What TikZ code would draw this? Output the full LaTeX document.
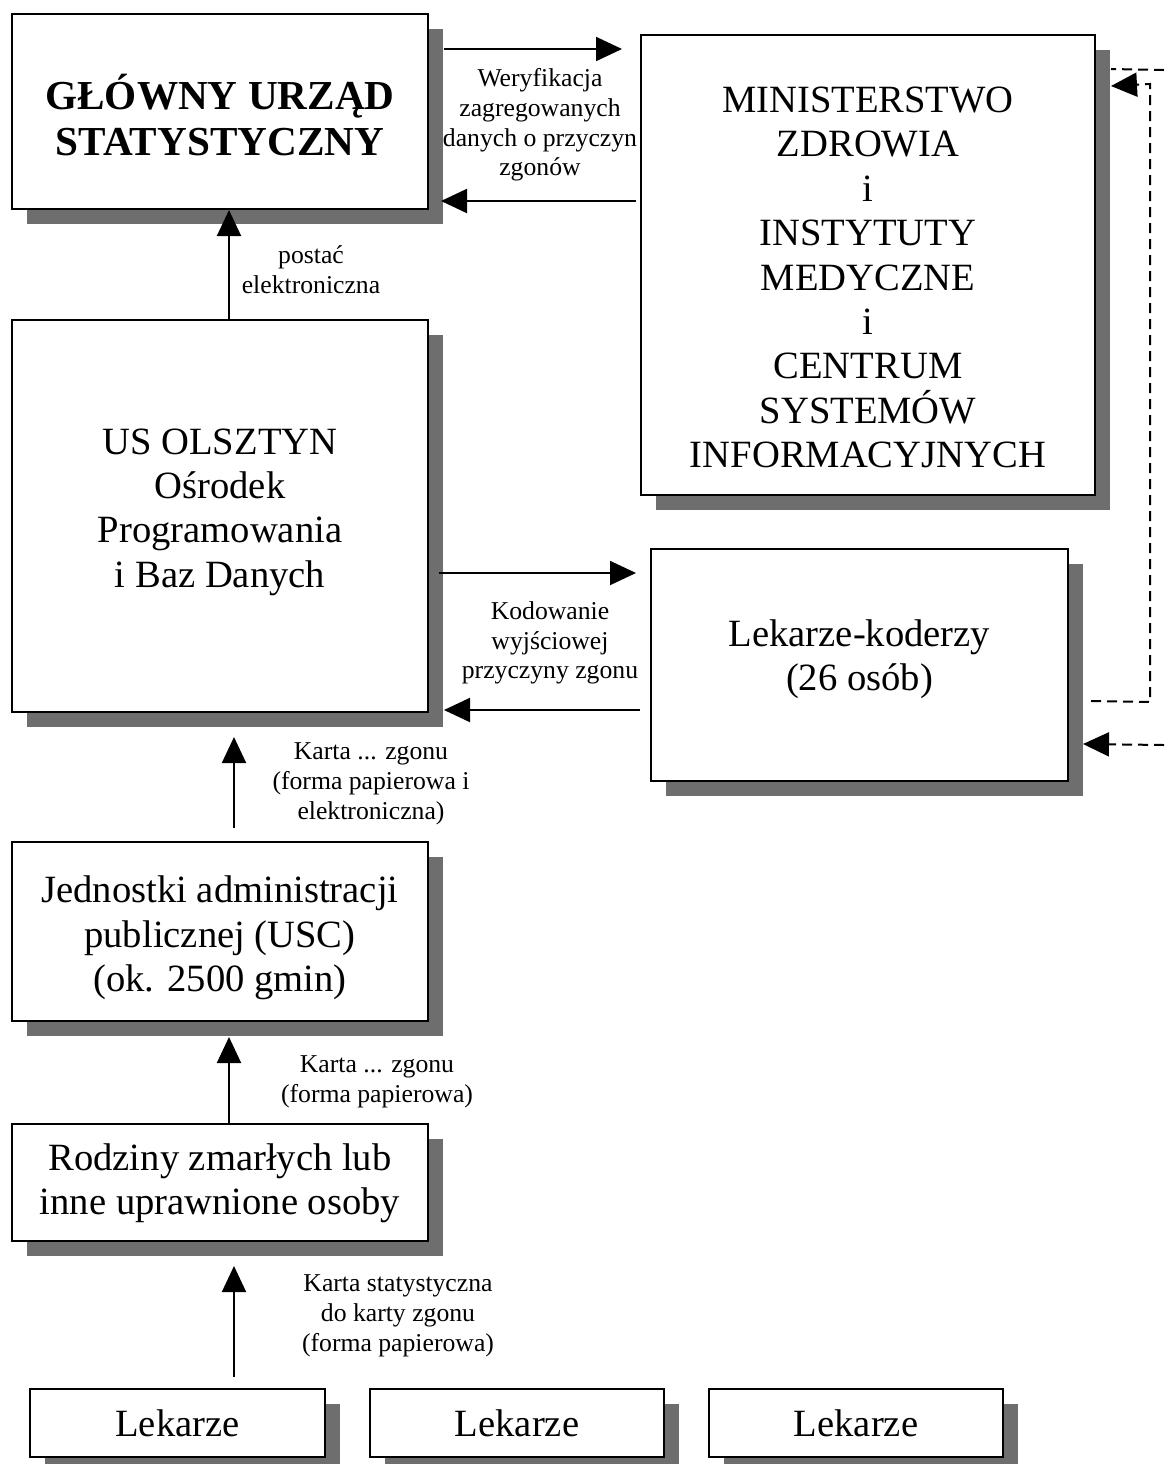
\documentclass[tikz,border=0pt]{standalone}
\usepackage{fontspec}
\setmainfont{Liberation Serif}
\usetikzlibrary{arrows.meta,shadows,calc}
\definecolor{shadowgray}{HTML}{6E6E6E}
\begin{document}
\begin{tikzpicture}[x=0.5pt,y=-0.5pt,
 box/.style={draw=black,line width=1pt,fill=white,inner sep=0pt,
   drop shadow={shadow xshift=7.5pt,shadow yshift=-7.5pt,fill=shadowgray,opacity=1}},
 big/.style={font=\fontsize{19.3}{22.2}\selectfont,align=center,inner sep=0pt},
 lbl/.style={font=\fontsize{12.85}{14.85}\selectfont,align=center,inner sep=0pt},
 arr/.style={line width=1pt,-{Triangle[length=13pt,width=12pt]}},
 darr/.style={arr,dash pattern=on 5pt off 3pt},
 dline/.style={line width=1pt,dash pattern=on 5pt off 3pt}]

\useasboundingbox (0,0) rectangle (1164,1464);

% boxes
\node[box,minimum width=208pt,minimum height=97.5pt] (gus) at (220,111.5) {};
\node[big,font=\fontsize{20.6}{23}\selectfont\bfseries] (gust) at (220,115) {GŁÓWNY URZĄD\\STATYSTYCZNY};

\node[box,minimum width=227pt,minimum height=230pt] (mz) at (868,265) {};
\node[big] (mzt) at (868,277.5) {MINISTERSTWO\\ZDROWIA\\i\\INSTYTUTY\\MEDYCZNE\\i\\CENTRUM\\SYSTEMÓW\\INFORMACYJNYCH};

\node[box,minimum width=208pt,minimum height=196pt] (us) at (220,516) {};
\node[big] (ust) at (220,512) {US OLSZTYN\\Ośrodek\\Programowania\\i Baz Danych};

\node[box,minimum width=208.5pt,minimum height=116pt] (kod) at (859.5,665) {};
\node[big] (kodt) at (859.5,659) {Lekarze-koderzy\\(26 osób)};

\node[box,minimum width=208pt,minimum height=89.5pt] (jed) at (220,931.5) {};
\node[big] (jedt) at (220,938) {Jednostki administracji\\publicznej (USC)\\(ok. 2500 gmin)};

\node[box,minimum width=208pt,minimum height=58.5pt] (rod) at (220,1182.5) {};
\node[big] (rodt) at (220,1183) {Rodziny zmarłych lub\\inne uprawnione osoby};

\node[box,big,minimum width=147.5pt,minimum height=34pt] (lek1) at (177.5,1423) {Lekarze};
\node[box,big,minimum width=147pt,minimum height=34pt] (lek2) at (517,1423) {Lekarze};
\node[box,big,minimum width=147pt,minimum height=34pt] (lek3) at (856,1423) {Lekarze};

% labels
\node[lbl] (l1) at (540,125) {Weryfikacja\\zagregowanych\\danych o przyczyn\\zgonów};
\node[lbl] (l2) at (311,270) {postać\\elektroniczna};
\node[lbl] (l3) at (550,643) {Kodowanie\\wyjściowej\\przyczyny zgonu};
\node[lbl] (l4) at (371,784) {Karta ... zgonu\\(forma papierowa i\\elektroniczna)};
\node[lbl] (l5) at (377,1082) {Karta ... zgonu\\(forma papierowa)};
\node[lbl] (l6) at (398,1316) {Karta statystyczna\\do karty zgonu\\(forma papierowa)};

% connector end points
\coordinate (a1) at ($(gus.north east)+(15,36)$);
\coordinate (a2) at ($(mz.north west)+(-18,0)$);
\coordinate (b1) at ($(mz.north west)+(-4,167)$);
\coordinate (b2) at ($(gus.south east)+(12,0)$);
\coordinate (c1) at ($(us.north east)+(10,254)$);
\coordinate (c2) at ($(kod.north west)+(-14,0)$);
\coordinate (d1) at ($(kod.north west)+(-10,162)$);
\coordinate (d2) at ($(us.south east)+(15,0)$);

% solid connectors
\draw[arr] (a1) -- (a1 -| a2);
\draw[arr] (b1) -- (b1 -| b2);
\draw[arr] ($(us.north)+(9,0)$) -- ($(gus.south)+(9,0)$);
\draw[arr] (c1) -- (c1 -| c2);
\draw[arr] (d1) -- (d1 -| d2);
\draw[arr] ($(jed.north)+(14,-13)$) -- ($(us.south)+(14,24)$);
\draw[arr] ($(rod.north)+(9,0)$) -- ($(jed.south)+(9,15)$);
\draw[arr] ($(lek1.north)+(56.5,-11)$) -- ($(rod.south)+(14,24)$);

% dashed connectors
\coordinate (e1) at (1164,70);
\coordinate (e2) at (1164,745);
\draw[dline] (e1) -- ($(mz.north east)+(15,35)$);
\draw[darr] ($(kod.north east)+(22,153)$) -- (1150,702) -- (1150,84) -- ($(mz.north east)+(15,52)$);
\draw[darr] (e2) -- ($(kod.north east)+(14,196)$);
\end{tikzpicture}
\end{document}
